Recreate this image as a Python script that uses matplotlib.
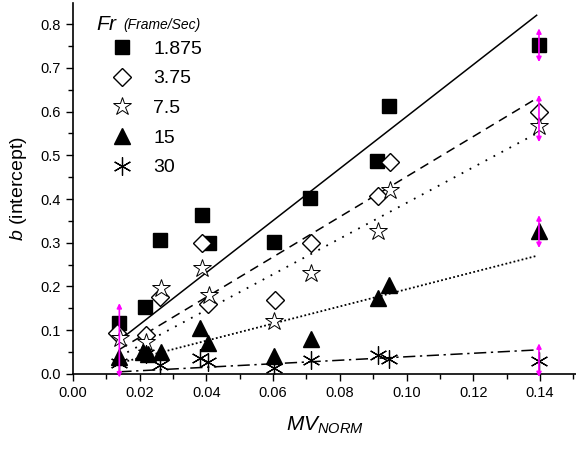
import matplotlib
matplotlib.use("Agg")
import numpy as np
import matplotlib.pyplot as plt
from matplotlib.ticker import MultipleLocator

plt.rcParams['font.family'] = ['Liberation Sans', 'DejaVu Sans']
plt.rcParams['mathtext.fontset'] = 'custom'
plt.rcParams['mathtext.rm'] = 'Liberation Sans'
plt.rcParams['mathtext.it'] = 'Liberation Sans:italic'

# data
labels = ["1.875", "3.75", "7.5", "15", "30"]

x_sq = [0.0139, 0.0215, 0.0262, 0.0386, 0.0407, 0.0604, 0.0712, 0.0910, 0.0948, 0.1397]
y_sq = [0.117, 0.153, 0.306, 0.363, 0.300, 0.301, 0.402, 0.487, 0.613, 0.752]

x_di = [0.0132, 0.0218, 0.0262, 0.0387, 0.0405, 0.0607, 0.0715, 0.0913, 0.0950, 0.1397]
y_di = [0.094, 0.090, 0.177, 0.300, 0.160, 0.169, 0.300, 0.408, 0.485, 0.600]

x_st = [0.0140, 0.0220, 0.0263, 0.0386, 0.0407, 0.0604, 0.0715, 0.0915, 0.0951, 0.1397]
y_st = [0.082, 0.073, 0.197, 0.243, 0.180, 0.121, 0.230, 0.327, 0.420, 0.567]

x_tr = [0.0138, 0.0210, 0.0225, 0.0263, 0.0380, 0.0405, 0.0604, 0.0715, 0.0915, 0.0948, 0.1397]
y_tr = [0.039, 0.050, 0.045, 0.050, 0.105, 0.070, 0.040, 0.081, 0.174, 0.203, 0.327]

x_as = [0.0138, 0.0218, 0.0262, 0.0382, 0.0405, 0.0604, 0.0715, 0.0915, 0.0948, 0.1397]
y_as = [0.025, 0.045, 0.021, 0.036, 0.028, 0.014, 0.032, 0.043, 0.034, 0.030]

# linear fits (end points)
fit_x = [0.0139, 0.139]
fit_sq = [0.077, 0.820]
fit_di = [0.056, 0.630]
fit_st = [0.040, 0.550]
fit_tr = [0.025, 0.270]
fit_as = [0.005, 0.055]

# magenta double arrows (error ranges)
err_x = [0.0139, 0.1397, 0.1397, 0.1397, 0.1397]
err_lo = [-0.008, 0.713, 0.530, 0.288, -0.007]
err_hi = [0.162, 0.790, 0.638, 0.363, 0.070]

fig = plt.figure(figsize=(5.76, 4.5), dpi=100)
ax = fig.add_axes([0.1267, 0.1689, 0.8733, 0.8244])

ms = 10
ax.plot(fit_x, fit_sq, color='black', lw=1.1, ls='-')
ax.plot(fit_x, fit_di, color='black', lw=1.1, ls=(0, (6, 4)))
ax.plot(fit_x, fit_st, color='black', lw=1.3, ls=(0, (1, 4)))
ax.plot(fit_x, fit_tr, color='black', lw=1.3, ls=(0, (1, 1.3)))
ax.plot(fit_x, fit_as, color='black', lw=1.1, ls=(0, (8, 3, 1.5, 3)))

h1, = ax.plot(x_sq, y_sq, 's', ms=ms, color='black', ls='none')
h2, = ax.plot(x_di, y_di, 'D', ms=ms * 0.9, mfc='white', mec='black', mew=1.0, ls='none')
h3, = ax.plot(x_st, y_st, '*', ms=ms * 1.35, mfc='white', mec='black', mew=0.7, ls='none')
h4, = ax.plot(x_tr, y_tr, '^', ms=ms * 1.15, color='black', ls='none')
h5, = ax.plot(x_as, y_as, marker=(6, 2, 0), ms=ms * 1.3, mec='black', mew=0.9, ls='none')

for xe, lo, hi in zip(err_x, err_lo, err_hi):
    ax.annotate('', xy=(xe, hi), xytext=(xe, lo),
                arrowprops=dict(arrowstyle='<|-|>', color='#ff00ff', lw=1.2,
                                mutation_scale=7, shrinkA=0, shrinkB=0),
                annotation_clip=False)

ax.set_xlim(0, 0.1508)
ax.set_ylim(0, 0.848)
ax.xaxis.set_major_locator(MultipleLocator(0.02))
ax.xaxis.set_minor_locator(MultipleLocator(0.01))
ax.yaxis.set_major_locator(MultipleLocator(0.1))
ax.yaxis.set_minor_locator(MultipleLocator(0.05))
ax.xaxis.set_major_formatter(matplotlib.ticker.FormatStrFormatter('%.2f'))
ax.yaxis.set_major_formatter(matplotlib.ticker.FormatStrFormatter('%.1f'))
ax.tick_params(which='major', length=5, width=1, labelsize=10.5, pad=4)
ax.tick_params(which='minor', length=3.5, width=1)
ax.spines['top'].set_visible(False)
ax.spines['right'].set_visible(False)
ax.spines['left'].set_linewidth(1.2)
ax.spines['bottom'].set_linewidth(1.2)

ax.set_ylabel(r'$b$ (intercept)', fontsize=14, labelpad=8)
ax.set_xlabel(r'$MV_{NORM}$', fontsize=15, labelpad=10)

fig.text(0.166, 0.933, r'$Fr$', fontsize=15)
fig.text(0.2135, 0.936, '(Frame/Sec)', fontsize=10, style='italic')
ax.legend([h1, h2, h3, h4, h5], labels, loc='upper left',
          bbox_to_anchor=(0.044, 0.921), frameon=False, fontsize=14,
          handletextpad=0.6, labelspacing=0.62, borderaxespad=0)

fig.savefig("out.png", dpi=100)
